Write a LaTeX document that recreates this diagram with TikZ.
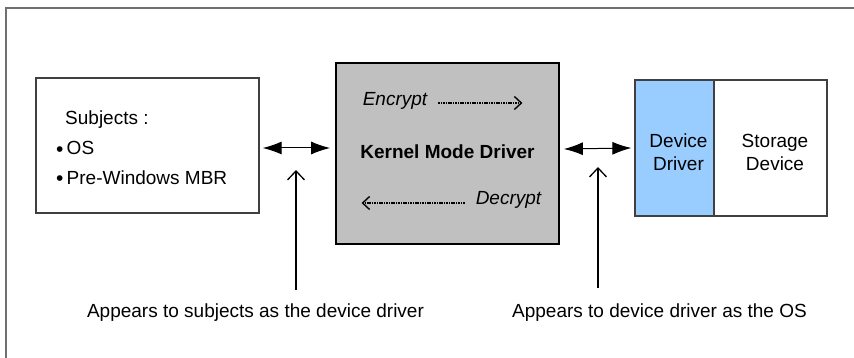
\documentclass[tikz,border=0pt]{standalone}
\usepackage{fontspec}
\setmainfont{Liberation Sans}
\usetikzlibrary{arrows.meta}
\definecolor{kgray}{HTML}{C0C0C0}
\definecolor{dblue}{HTML}{99CCFF}
\definecolor{fgray}{HTML}{707070}
\definecolor{bgray}{HTML}{404040}
\newcommand{\mybul}{\raisebox{-1.5pt}{\fontsize{21}{21}\selectfont •}}
\tikzset{
  frameline/.style={draw=fgray,line width=1.5pt},
  plainbox/.style={draw=bgray,line width=1.3pt,fill=white,inner sep=0pt},
  kernbox/.style={draw=black,line width=1.8pt,fill=kgray,inner sep=0pt},
  ddbox/.style={draw=bgray,line width=1.3pt,fill=dblue,inner sep=0pt},
  txt/.style={inner sep=0pt,font=\fontsize{19}{23}\selectfont},
  dblarrow/.style={{Latex[length=19pt,width=13pt]}-{Latex[length=19pt,width=13pt]},line width=1pt},
  uparrow/.style={-{Straight Barb[length=9pt,width=17pt,line width=1.3pt]},line width=1.3pt},
  dotarrow/.style={-{Straight Barb[length=7pt,width=13pt,line width=1.4pt]},line width=2.2pt,dash pattern=on 1.6pt off 0.8pt},
}
\begin{document}
\begin{tikzpicture}[x=1pt,y=-1pt]
\useasboundingbox (0,0) rectangle (854,358);
\fill[white] (0,0) rectangle (854,358);
\draw[frameline] (6,358) -- (6,8) -- (854,8);

% left box
\node[plainbox,minimum width=223pt,minimum height=135pt] (subj) at (147.5,145.5) {};
\node[txt,anchor=west] (subjt) at (65,120) {Subjects :};
\node[txt,anchor=west] (os) at (56,149) {\mybul\,OS};
\node[txt,anchor=west] (mbr) at (56,178) {\mybul\,Pre-Windows MBR};

% kernel box
\node[kernbox,minimum width=223pt,minimum height=181pt] (kmd) at (447.5,153.5) {};
\node[txt,font=\fontsize{19}{23}\selectfont\itshape] (enc) at (395,101) {Encrypt};
\node[txt,font=\fontsize{19}{23}\selectfont\bfseries] (kmdt) at (447.5,152) {Kernel Mode Driver};
\node[txt,font=\fontsize{19}{23}\selectfont\itshape] (dec) at (508.5,200) {Decrypt};
\draw[dotarrow] ([xshift=11pt,yshift=-2pt]enc.east) -- ([xshift=95pt,yshift=-2pt]enc.east);
\draw[dotarrow] ([xshift=-11pt,yshift=-3pt]dec.west) -- ([xshift=-114pt,yshift=-3pt]dec.west);

% device boxes
\node[ddbox,minimum width=79pt,minimum height=136pt] (dd) at (674.5,148) {};
\node[plainbox,minimum width=113pt,minimum height=136pt] (sd) at (770.5,148) {};
\node[txt,align=center] (ddt) at (678.5,152.5) {Device\\Driver};
\node[txt,align=center] (sdt) at (775,152.5) {Storage\\Device};

% double arrows
\draw[dblarrow] ([xshift=3pt,yshift=-2.5pt]subj.east) -- ([xshift=-5pt,yshift=5.5pt]kmd.west);
\draw[dblarrow] ([xshift=4pt,yshift=4.5pt]kmd.east) -- ([xshift=-3pt,yshift=0pt]dd.west);

% bottom labels and pointer arrows
\node[txt] (lab1) at (255.5,313) {Appears to subjects as the device driver};
\node[txt] (lab2) at (659.5,313) {Appears to device driver as the OS};
\coordinate (v1b) at (296,290);
\coordinate (v1t) at (296,170);
\coordinate (v2b) at (598,288);
\coordinate (v2t) at (598,167);
\draw[uparrow] (v1b) -- (v1t);
\draw[uparrow] (v2b) -- (v2t);
\end{tikzpicture}
\end{document}
